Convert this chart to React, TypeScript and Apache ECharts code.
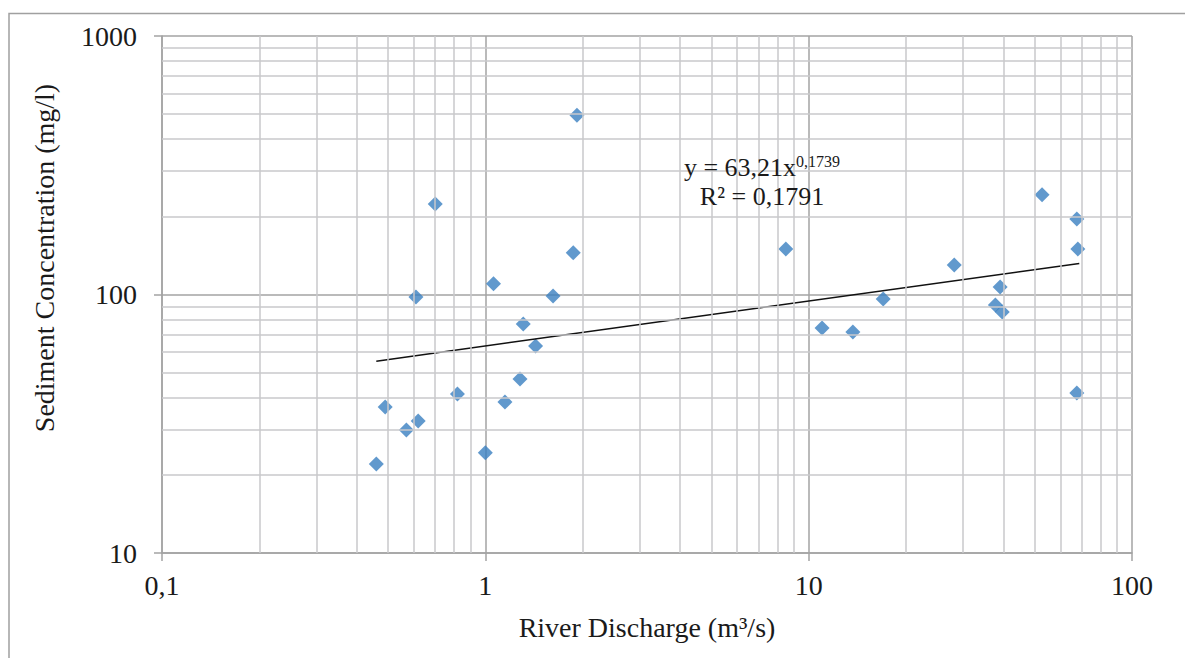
import React, { useEffect, useRef } from "react";
import * as echarts from "echarts";

// River discharge (m³/s)
const discharge = [
  0.46, 0.49, 0.57, 0.62, 0.61, 0.7, 0.82, 1.0, 1.06, 1.15, 1.28, 1.31, 1.43, 1.62,
  1.87, 1.92, 8.5, 11.0, 13.7, 17.0, 28.2, 37.8, 39.7, 39.1, 52.7, 67.5, 68.0, 67.5,
];
// Sediment concentration (mg/l)
const concentration = [
  22.1, 36.7, 29.9, 32.4, 97.8, 224, 41.2, 24.4, 110, 38.4, 47.1, 76.9, 63.2, 98.6,
  145, 494, 150, 74.2, 71.6, 96.1, 130, 91.0, 85.5, 107, 243, 196, 150, 41.6,
];

// Power trendline y = a * x^b (from the chart's equation)
const trendCoef = 63.21;
const trendExp = 0.1739;
const trendRange = [0.46, 68.7];

// Minor gridline positions
const xMinor = [0.2, 0.3, 0.4, 0.5, 0.6, 0.7, 0.8, 0.9, 2, 3, 4, 5, 6, 7, 8, 9, 20, 30, 40, 50, 60, 70, 80, 90];
const yMinor = [20, 30, 40, 50, 60, 70, 80, 90, 200, 300, 400, 500, 600, 700, 800, 900];

const FONT = "'Liberation Serif', 'Times New Roman', serif";
const TEXT = "#1a1a1a";
const MAJOR = "#a3a3a3";
const MINOR = "#c9c9cb";

export default function App() {
  const ref = useRef<HTMLDivElement>(null);

  useEffect(() => {
    if (!ref.current) return;
    const chart = echarts.init(ref.current, undefined, { renderer: "svg" });

    const points = discharge.map((x, i) => [x, concentration[i]]);
    const trend = trendRange.map((x) => [x, trendCoef * Math.pow(x, trendExp)]);
    const fmt = (v: number) => String(v).replace(".", ",");

    const minorLines = [
      ...xMinor.map((v) => ({ xAxis: v })),
      ...yMinor.map((v) => ({ yAxis: v })),
    ];

    chart.setOption({
      animation: false,
      backgroundColor: "#ffffff",
      textStyle: { fontFamily: FONT },
      grid: { left: 154, top: 28, width: 970, height: 517, containLabel: false },
      xAxis: {
        type: "log",
        logBase: 10,
        min: 0.1,
        max: 100,
        name: "River Discharge (m³/s)",
        nameLocation: "middle",
        nameGap: 60,
        nameTextStyle: { fontFamily: FONT, fontSize: 28, color: TEXT },
        axisLine: { show: true, lineStyle: { color: MAJOR, width: 1.5 } },
        axisTick: { show: true, length: 8, lineStyle: { color: MAJOR, width: 1.5 } },
        axisLabel: { fontFamily: FONT, fontSize: 28, color: TEXT, margin: 18, formatter: fmt },
        splitLine: { show: true, lineStyle: { color: MAJOR, width: 1.5 } },
      },
      yAxis: {
        type: "log",
        logBase: 10,
        min: 10,
        max: 1000,
        axisLine: { show: true, lineStyle: { color: MAJOR, width: 1.5 } },
        axisTick: { show: true, length: 8, lineStyle: { color: MAJOR, width: 1.5 } },
        axisLabel: { fontFamily: FONT, fontSize: 28, color: TEXT, margin: 25, formatter: fmt },
        splitLine: { show: true, lineStyle: { color: MAJOR, width: 1.5 } },
      },
      graphic: [
        {
          type: "rect",
          shape: { x: 1, y: 5.5, width: 3000, height: 3000 },
          style: { fill: "none", stroke: "#a0a0a0", lineWidth: 1.5 },
          silent: true,
          z: -1,
        },
        {
          type: "text",
          x: 36,
          y: 250,
          rotation: Math.PI / 2,
          style: {
            text: "Sediment Concentration (mg/l)",
            font: `28px ${FONT}`,
            fill: TEXT,
            align: "center",
            verticalAlign: "middle",
          },
        },
        {
          type: "text",
          x: 754,
          y: 174,
          style: {
            text: "{a|y = 63,21x}{s|0,1739}\n{a|R² = 0,1791}",
            fill: TEXT,
            align: "center",
            verticalAlign: "middle",
            rich: {
              a: { fontFamily: FONT, fontSize: 26, lineHeight: 29, fill: TEXT },
              s: { fontFamily: FONT, fontSize: 16, lineHeight: 12, verticalAlign: "top", fill: TEXT },
            },
          },
          z: 10,
        },
      ],
      series: [
        {
          type: "line",
          name: "minor grid",
          data: [],
          silent: true,
          z: 1,
          markLine: {
            silent: true,
            symbol: ["none", "none"],
            label: { show: false },
            lineStyle: { color: MINOR, width: 1.5, type: "solid" },
            emphasis: { disabled: true },
            data: minorLines,
          },
        },
        {
          type: "scatter",
          name: "Samples",
          data: points,
          symbol: "diamond",
          symbolSize: 15,
          itemStyle: { color: "#3a7fc0" },
          z: 3,
        },
        {
          type: "line",
          name: "Power trend",
          data: trend,
          symbol: "none",
          lineStyle: { color: "#111111", width: 1.5 },
          z: 4,
        },
      ],
    });

    return () => chart.dispose();
  }, []);

  return <div ref={ref} style={{ width: 1185, height: 650 }} />;
}
